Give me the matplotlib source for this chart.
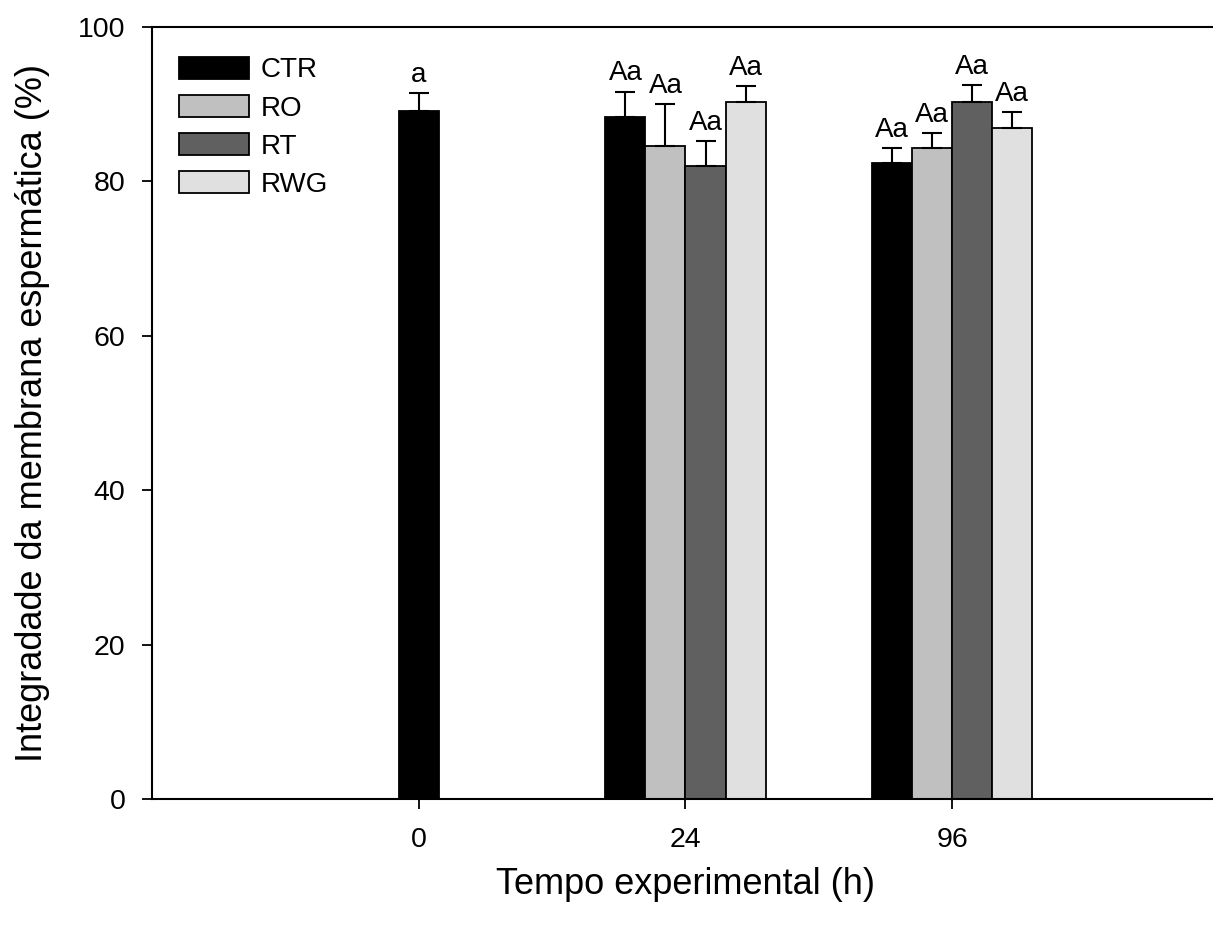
import numpy as np
import matplotlib.pyplot as plt

plt.rcParams['font.family'] = ['Liberation Sans', 'DejaVu Sans']

# data
tempos = ['0', '24', '96']
tratamentos = ['CTR', 'RO', 'RT', 'RWG']
cores = ['#000000', '#c0c0c0', '#606060', '#e0e0e0']

ctr = [89.1, 88.3, 82.4]
ro = [np.nan, 84.5, 84.3]
rt = [np.nan, 82.0, 90.2]
rwg = [np.nan, 90.2, 86.9]

ctr_err = [2.3, 3.3, 1.9]
ro_err = [np.nan, 5.5, 1.9]
rt_err = [np.nan, 3.2, 2.3]
rwg_err = [np.nan, 2.1, 2.1]

ctr_let = ['a', 'Aa', 'Aa']
ro_let = ['', 'Aa', 'Aa']
rt_let = ['', 'Aa', 'Aa']
rwg_let = ['', 'Aa', 'Aa']

medias = [ctr, ro, rt, rwg]
erros = [ctr_err, ro_err, rt_err, rwg_err]
letras = [ctr_let, ro_let, rt_let, rwg_let]

fig = plt.figure(figsize=(12.13, 9.30), dpi=100)
ax = fig.add_axes([152/1213, 1 - 799.3/930, (1219 - 152)/1213, (799.3 - 26.7)/930])

w = 0.15
x = np.arange(len(tempos))

for i, (nome, cor) in enumerate(zip(tratamentos, cores)):
    xs, ys, es, ls = [], [], [], []
    for j in range(len(tempos)):
        if np.isnan(medias[i][j]):
            continue
        # group 0 only has the control, so it sits on the tick
        n = sum(not np.isnan(m[j]) for m in medias)
        xs.append(x[j] + (i - (n - 1) / 2) * w)
        ys.append(medias[i][j])
        es.append(erros[i][j])
        ls.append(letras[i][j])
    ax.bar(xs, ys, width=w, color=cor, edgecolor='black', linewidth=1.3, label=nome, zorder=2)
    ax.errorbar(xs, ys, yerr=[np.zeros(len(es)), es], fmt='none', ecolor='black',
                elinewidth=1.5, capsize=7.5, capthick=1.5, zorder=3)
    for xi, yi, ei, li in zip(xs, ys, es, ls):
        ax.annotate(li, (xi, yi + ei), xytext=(0, 8), textcoords='offset points',
                    ha='center', va='baseline', fontsize=20)

ax.set_xlim(-1.0, 3.0)
ax.set_ylim(0, 100)
ax.set_xticks(x)
ax.set_xticklabels(tempos)
ax.set_yticks(range(0, 101, 20))
ax.tick_params(labelsize=20.5, length=7, width=1.3, direction='out')
ax.tick_params(axis='x', pad=13)
ax.tick_params(axis='y', pad=12)

ax.spines['right'].set_visible(False)
for s in ['left', 'bottom', 'top']:
    ax.spines[s].set_linewidth(1.5)

ax.set_xlabel('Tempo experimental (h)', fontsize=26, labelpad=10)
ax.set_ylabel('Integradade da membrana espermática (%)', fontsize=26, labelpad=20)

ax.legend(loc='upper left', bbox_to_anchor=(179/1213, 1 - 57/930), bbox_transform=fig.transFigure,
          frameon=False, fontsize=20, handlelength=2.52, handleheight=0.82,
          handletextpad=0.43, labelspacing=0.42, borderpad=0, borderaxespad=0)

fig.savefig('out.png', dpi=100)
